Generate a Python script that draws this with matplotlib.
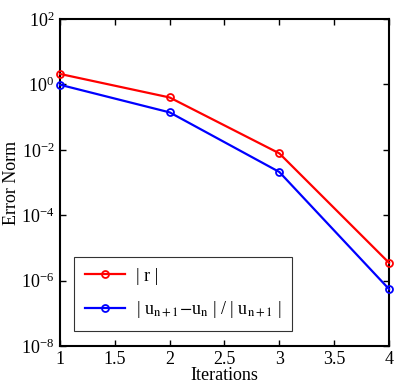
import matplotlib
matplotlib.use('Agg')
import matplotlib.pyplot as plt

# data
iterations = [1, 2, 3, 4]
residual = [2.1, 0.40, 7.8e-3, 3.5e-6]
rel_change = [0.98, 0.14, 2.1e-3, 5.5e-7]

plt.rcParams['font.family'] = ['Liberation Serif', 'DejaVu Serif']
plt.rcParams['mathtext.fontset'] = 'stix'

fig = plt.figure(figsize=(4.0, 3.9), dpi=100)
ax = fig.add_axes([0.15, 0.113, 0.8225, 0.838])

ax.semilogy(iterations, residual, '-o', color='red', lw=1.6, ms=5,
            mfc='none', mew=1.3, label='| r |', clip_on=False, zorder=3)
ax.semilogy(iterations, rel_change, '-o', color='blue', lw=1.6, ms=5,
            mfc='none', mew=1.3,
            label=r'| u$_{\rm n+1}$$-$u$_{\rm n}$ | / | u$_{\rm n+1}$ |',
            clip_on=False, zorder=3)

ax.set_xlim(1, 4)
ax.set_ylim(1e-8, 1e2)
ax.set_xticks([1, 1.5, 2, 2.5, 3, 3.5, 4])
ax.set_xticklabels(['1', '1.5', '2', '2.5', '3', '3.5', '4'])
ax.set_yticks([1e-8, 1e-6, 1e-4, 1e-2, 1e0, 1e2])
ax.yaxis.set_minor_locator(matplotlib.ticker.NullLocator())
ax.tick_params(direction='in', top=True, right=True, length=4, width=1,
               labelsize=13, pad=4)
for s in ax.spines.values():
    s.set_linewidth(1.5)

ax.set_xlabel('Iterations', fontsize=13, labelpad=-1)
ax.set_ylabel('Error Norm', fontsize=13, labelpad=1)

leg = ax.legend(loc='lower left', bbox_to_anchor=(0.043, 0.046), fontsize=13,
                fancybox=False, edgecolor='black', handlelength=2.2,
                borderpad=0.6, labelspacing=0.8, borderaxespad=0,
                handletextpad=0.6)
leg.get_frame().set_linewidth(0.8)

fig.savefig('out.png', dpi=100)
